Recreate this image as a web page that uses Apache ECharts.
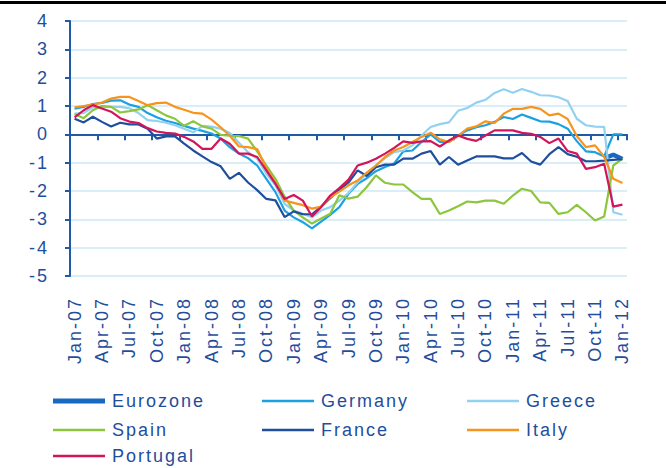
<!DOCTYPE html>
<html><head><meta charset="utf-8">
<script src="https://cdn.jsdelivr.net/npm/echarts@6/dist/echarts.min.js"></script>
<style>html,body{margin:0;padding:0;background:#fff}#c{width:666px;height:468px}
#c text{letter-spacing:2px}</style>
</head><body><div id="c"></div>
<script>
var categories = ['Jan-07','Feb-07','Mar-07','Apr-07','May-07','Jun-07','Jul-07','Aug-07','Sep-07','Oct-07','Nov-07','Dec-07',
'Jan-08','Feb-08','Mar-08','Apr-08','May-08','Jun-08','Jul-08','Aug-08','Sep-08','Oct-08','Nov-08','Dec-08',
'Jan-09','Feb-09','Mar-09','Apr-09','May-09','Jun-09','Jul-09','Aug-09','Sep-09','Oct-09','Nov-09','Dec-09',
'Jan-10','Feb-10','Mar-10','Apr-10','May-10','Jun-10','Jul-10','Aug-10','Sep-10','Oct-10','Nov-10','Dec-10',
'Jan-11','Feb-11','Mar-11','Apr-11','May-11','Jun-11','Jul-11','Aug-11','Sep-11','Oct-11','Nov-11','Dec-11','Jan-12'];

var yTicks = [-5,-4,-3,-2,-1,0,1,2,3,4];

var eurozone = [null,null,null,null,null,null,null,null,null,null,null,null,
null,null,null,null,null,null,null,null,null,null,null,null,
null,null,null,null,null,null,null,null,null,null,null,null,
null,null,null,null,null,null,null,null,null,null,null,null,
null,null,null,null,null,null,null,null,null,null,-0.85,-0.72,-0.87];

var germany = [0.91,0.97,1.07,1.11,1.19,1.2,1.05,0.97,0.75,0.6,0.48,0.4,
0.3,0.2,0.12,0.03,-0.15,-0.45,-0.68,-0.84,-1.1,-1.57,-2.04,-2.69,
-2.93,-3.1,-3.32,-3.08,-2.84,-2.57,-2.1,-1.75,-1.55,-1.3,-1.15,-1.03,
-0.6,-0.57,-0.27,0.0,-0.27,-0.27,-0.04,0.14,0.25,0.32,0.44,0.61,
0.54,0.7,0.58,0.46,0.45,0.36,0.2,-0.24,-0.6,-0.63,-0.78,0.0,0.0];

var greece = [0.73,0.75,0.95,0.97,0.97,0.97,0.92,0.75,0.5,0.47,0.41,0.32,
0.2,0.07,0.3,0.27,0.2,0.05,-0.3,-0.63,-0.86,-1.39,-1.8,-2.45,
-2.69,-2.8,-2.93,-2.69,-2.57,-2.34,-2.07,-1.69,-1.39,-1.1,-0.84,-0.63,
-0.57,-0.39,-0.04,0.26,0.36,0.42,0.83,0.93,1.12,1.22,1.46,1.59,
1.47,1.6,1.5,1.38,1.37,1.31,1.18,0.55,0.32,0.27,0.26,-2.75,-2.84];

var spain = [0.72,0.57,0.85,1.0,0.97,0.77,0.82,0.88,1.03,0.85,0.67,0.55,
0.3,0.46,0.28,0.2,-0.02,-0.05,-0.06,-0.15,-0.6,-1.1,-1.57,-2.2,
-2.69,-2.93,-3.15,-2.97,-2.8,-2.15,-2.27,-2.2,-1.86,-1.45,-1.71,-1.77,
-1.77,-2.04,-2.28,-2.28,-2.81,-2.69,-2.54,-2.37,-2.4,-2.34,-2.34,-2.45,
-2.16,-1.92,-2.0,-2.4,-2.42,-2.81,-2.75,-2.49,-2.75,-3.04,-2.9,-1.1,-0.86];

var france = [0.55,0.42,0.62,0.44,0.28,0.41,0.35,0.35,0.2,-0.15,-0.07,-0.07,
-0.33,-0.57,-0.78,-0.98,-1.13,-1.57,-1.36,-1.7,-1.97,-2.28,-2.33,-2.92,
-2.72,-2.82,-2.82,-2.55,-2.25,-1.95,-1.7,-1.27,-1.47,-1.16,-1.07,-1.07,
-0.86,-0.86,-0.68,-0.59,-1.07,-0.8,-1.07,-0.92,-0.78,-0.78,-0.78,-0.85,
-0.85,-0.66,-0.96,-1.07,-0.7,-0.45,-0.7,-0.79,-0.95,-0.95,-0.93,-0.9,-0.88];

var italy = [0.95,1.0,1.05,1.12,1.26,1.32,1.32,1.18,1.03,1.1,1.12,0.97,
0.87,0.76,0.73,0.52,0.25,-0.05,-0.43,-0.45,-0.52,-1.2,-1.7,-2.34,
-2.42,-2.5,-2.62,-2.55,-2.22,-2.02,-1.8,-1.63,-1.35,-1.1,-0.8,-0.57,
-0.45,-0.27,-0.09,0.06,-0.18,-0.27,-0.06,0.2,0.28,0.46,0.4,0.73,
0.9,0.9,0.97,0.9,0.67,0.73,0.54,-0.06,-0.45,-0.39,-0.79,-1.57,-1.72];

var portugal = [0.6,0.85,1.03,0.91,0.8,0.57,0.45,0.4,0.22,0.1,0.05,0.03,
-0.09,-0.25,-0.51,-0.51,-0.15,-0.33,-0.68,-0.68,-0.8,-1.27,-1.75,-2.28,
-2.14,-2.34,-2.9,-2.57,-2.16,-1.9,-1.6,-1.1,-1.0,-0.86,-0.68,-0.48,
-0.25,-0.3,-0.25,-0.24,-0.43,-0.22,-0.04,-0.16,-0.23,-0.04,0.14,0.14,
0.14,0.05,0.02,-0.09,-0.31,-0.15,-0.59,-0.68,-1.22,-1.16,-1.04,-2.55,-2.48];

var names = ['Eurozone','Germany','Greece','Spain','France','Italy','Portugal'];
var colors = ['#1769c2','#1ba1e2','#92d1f1','#8cc63f','#1f4e9c','#f7941d','#d4145a'];
var widths = [4.5,2.2,2.2,2.2,2.2,2.2,2.2];
var values = [eurozone,germany,greece,spain,france,italy,portugal];

var txt = '#1f4e9c';
var font = '"Liberation Sans", Arial, sans-serif';
var axisBlue = '#1f5aa6';

var series = names.map(function(n,i){
  return {name:n,type:'line',data:values[i],xAxisIndex:0,yAxisIndex:0,
    symbol:'none',showSymbol:false,connectNulls:false,animation:false,
    lineStyle:{color:colors[i],width:widths[i]},itemStyle:{color:colors[i]},z:2+i};
});

// legend placement: [name, left, top, icon thickness]
var legendSlots = [['Eurozone',53,391,5],['Germany',262,391,2.5],['Greece',467,391,2.5],
  ['Spain',53,420,2.5],['France',262,420,2.5],['Italy',467,420,2.5],['Portugal',53,446,2.5]];

var legends = legendSlots.map(function(s){
  return {data:[s[0]],left:s[1],top:s[2],padding:0,orient:'horizontal',icon:'rect',
    itemWidth:52,itemHeight:s[3],itemGap:0,
    textStyle:{color:txt,fontSize:18,fontFamily:font,lineHeight:20,padding:[0,0,0,2]}};
});

var chart = echarts.init(document.getElementById('c'),null,{renderer:'svg'});
chart.setOption({
  backgroundColor:'#fff',
  animation:false,
  grid:[{left:70,top:21,right:39,bottom:192,containLabel:false}],
  legend:legends,
  xAxis:[
    {type:'category',data:categories,gridIndex:0,boundaryGap:true,
     axisLine:{onZero:true,lineStyle:{color:axisBlue,width:2}},
     axisTick:{show:true,interval:2,length:6,lineStyle:{color:axisBlue,width:2}},
     axisLabel:{show:false},splitLine:{show:false}},
    {type:'category',data:categories,gridIndex:0,boundaryGap:true,position:'bottom',
     axisLine:{show:false,onZero:false},axisTick:{show:false},splitLine:{show:false},
     axisLabel:{show:true,interval:2,rotate:90,margin:21,color:txt,fontSize:18,fontFamily:font}}
  ],
  yAxis:[{type:'value',min:yTicks[0],max:yTicks[yTicks.length-1],interval:1,gridIndex:0,
    axisLine:{show:true,onZero:false,lineStyle:{color:axisBlue,width:2}},
    axisTick:{show:true,length:5,lineStyle:{color:axisBlue,width:2}},
    axisLabel:{color:txt,fontSize:18,fontFamily:font,margin:21},
    splitLine:{show:true,lineStyle:{color:'#d9eef9',width:2}}}],
  graphic:[{type:'rect',left:0,top:1,shape:{width:666,height:3},style:{fill:'#000'},z:100}],
  series:series
});
</script></body></html>
